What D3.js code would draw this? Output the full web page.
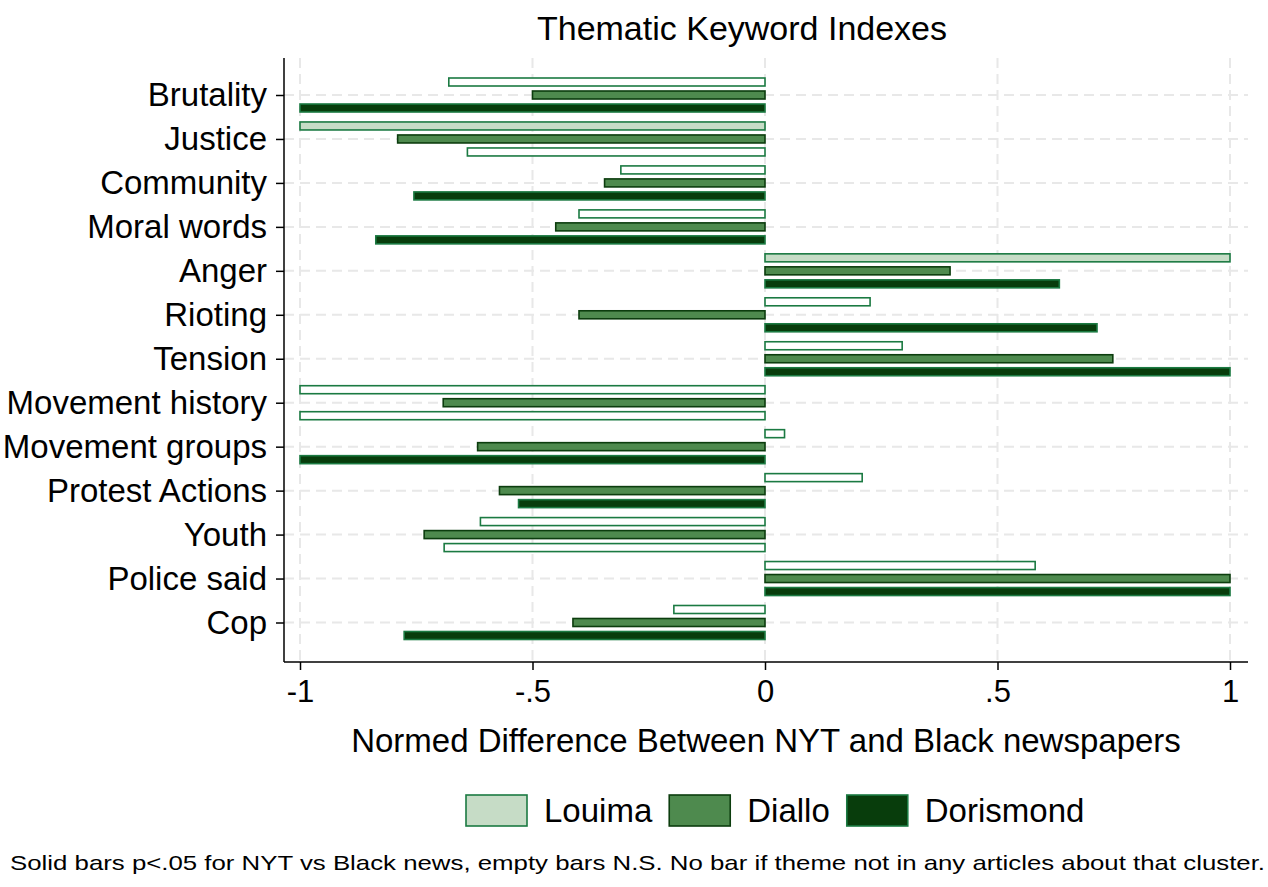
<!DOCTYPE html>
<html>
<head>
<meta charset="utf-8">
<script src="https://cdn.jsdelivr.net/npm/d3@7"></script>
<style>
    body { margin: 0; background: #fff; }
    text { font-family: "Liberation Sans", Arial, sans-serif; fill: #000; }
</style>
</head>
<body>
<div id="chart"></div>
<script>
// themes, top to bottom
const themes = ["Brutality", "Justice", "Community", "Moral words", "Anger", "Rioting", "Tension",
    "Movement history", "Movement groups", "Protest Actions", "Youth", "Police said", "Cop"];

// normed difference per case
const louima    = [-0.68, -1.00, -0.31, -0.40, 1.00, 0.226, 0.295, -1.00, 0.042, 0.209, -0.612, 0.581, -0.196];
const diallo    = [-0.50, -0.79, -0.345, -0.45, 0.398, -0.40, 0.748, -0.692, -0.618, -0.571, -0.733, 1.00, -0.413];
const dorismond = [-1.00, -0.64, -0.755, -0.837, 0.633, 0.714, 1.00, -1.00, -1.00, -0.53, -0.69, 1.00, -0.776];

// 1 = p<.05 (solid bar), 0 = n.s. (empty bar)
const louimaSig    = [0, 1, 0, 0, 1, 0, 0, 0, 0, 0, 0, 0, 0];
const dialloSig    = [1, 1, 1, 1, 1, 1, 1, 1, 1, 1, 1, 1, 1];
const dorismondSig = [1, 0, 1, 1, 1, 1, 1, 0, 1, 1, 0, 1, 1];

const cases = ["Louima", "Diallo", "Dorismond"];
const xTicks = [-1, -0.5, 0, 0.5, 1];

const fills   = { Louima: "#c6dcc6", Diallo: "#4e8a4e", Dorismond: "#083d0c" };
const strokes = { Louima: "#1b7a42", Diallo: "#0c3d0e", Dorismond: "#1b7a42" };

const series = [
    { name: "Louima", values: louima, sig: louimaSig },
    { name: "Diallo", values: diallo, sig: dialloSig },
    { name: "Dorismond", values: dorismond, sig: dorismondSig }
];
const bars = [];
series.forEach(s => {
    themes.forEach((t, i) => bars.push({ theme: t, name: s.name, value: s.values[i], sig: s.sig[i] }));
});

const svg = d3.select("#chart").append("svg")
    .attr("width", 1268)
    .attr("height", 887);

const plot = { left: 284, right: 1248, top: 58, bottom: 662 };

const x = d3.scaleLinear().domain([-1, 1]).range([300, 1230]);
const y = d3.scalePoint().domain(themes).range([95, 622.5]);
const sub = d3.scaleBand().domain(cases).range([-19.5, 19.5]);
const barH = 8;

// grid
const grid = svg.append("g").attr("stroke", "#e8e8e8").attr("stroke-width", 2).attr("stroke-dasharray", "10,6");
grid.selectAll("line.h")
    .data(themes)
    .enter().append("line")
    .attr("x1", plot.left).attr("x2", plot.right)
    .attr("y1", d => y(d)).attr("y2", d => y(d));
grid.selectAll("line.v")
    .data(xTicks)
    .enter().append("line")
    .attr("x1", d => x(d)).attr("x2", d => x(d))
    .attr("y1", plot.top).attr("y2", plot.bottom);

// bars
svg.append("g").selectAll("rect")
    .data(bars)
    .enter().append("rect")
    .attr("x", d => Math.min(x(0), x(d.value)))
    .attr("y", d => y(d.theme) + sub(d.name) + sub.bandwidth() / 2 - barH / 2)
    .attr("width", d => Math.abs(x(d.value) - x(0)))
    .attr("height", barH)
    .attr("fill", d => d.sig ? fills[d.name] : "#fff")
    .attr("stroke", d => d.sig ? strokes[d.name] : "#1b7a42")
    .attr("stroke-width", 1.6);

// axes
svg.append("g")
    .attr("transform", `translate(0,${plot.bottom})`)
    .call(d3.axisBottom(x).tickValues(xTicks).tickSize(8).tickPadding(10)
        .tickFormat(d => String(d).replace("0.", ".")))
    .call(g => g.select(".domain").remove())
    .call(g => g.selectAll("text").style("font-size", "31px").attr("fill", "#000"))
    .call(g => g.selectAll("line").attr("stroke", "#000").attr("stroke-width", 1.5));

svg.append("g")
    .attr("transform", `translate(${plot.left},0)`)
    .call(d3.axisLeft(y).tickSize(8).tickPadding(9))
    .call(g => g.select(".domain").remove())
    .call(g => g.selectAll("text").style("font-size", "33px").attr("fill", "#000"))
    .call(g => g.selectAll("line").attr("stroke", "#000").attr("stroke-width", 1.5));

svg.append("line")
    .attr("x1", plot.left).attr("x2", plot.left)
    .attr("y1", plot.top).attr("y2", plot.bottom)
    .attr("stroke", "#000").attr("stroke-width", 1.5);
svg.append("line")
    .attr("x1", plot.left).attr("x2", plot.right)
    .attr("y1", plot.bottom).attr("y2", plot.bottom)
    .attr("stroke", "#000").attr("stroke-width", 1.5);

// titles
svg.append("text")
    .attr("x", 742).attr("y", 40)
    .attr("text-anchor", "middle")
    .style("font-size", "34px")
    .text("Thematic Keyword Indexes");

svg.append("text")
    .attr("x", 766).attr("y", 752)
    .attr("text-anchor", "middle")
    .style("font-size", "33px")
    .text("Normed Difference Between NYT and Black newspapers");

// legend
const legend = svg.append("g");
let lx = 466;
cases.forEach(c => {
    legend.append("rect")
        .attr("x", lx).attr("y", 795)
        .attr("width", 61).attr("height", 31)
        .attr("fill", fills[c])
        .attr("stroke", strokes[c])
        .attr("stroke-width", 1.6);
    const t = legend.append("text")
        .attr("x", lx + 78).attr("y", 822)
        .style("font-size", "33px")
        .text(c);
    lx += 78 + t.node().getComputedTextLength() + 17;
});

// note
svg.append("text")
    .attr("x", 10).attr("y", 870)
    .attr("textLength", 1255)
    .attr("lengthAdjust", "spacingAndGlyphs")
    .style("font-size", "21px")
    .text("Solid bars p<.05 for NYT vs Black news, empty bars N.S.  No bar if theme not in any articles about that cluster.");
</script>
</body>
</html>
